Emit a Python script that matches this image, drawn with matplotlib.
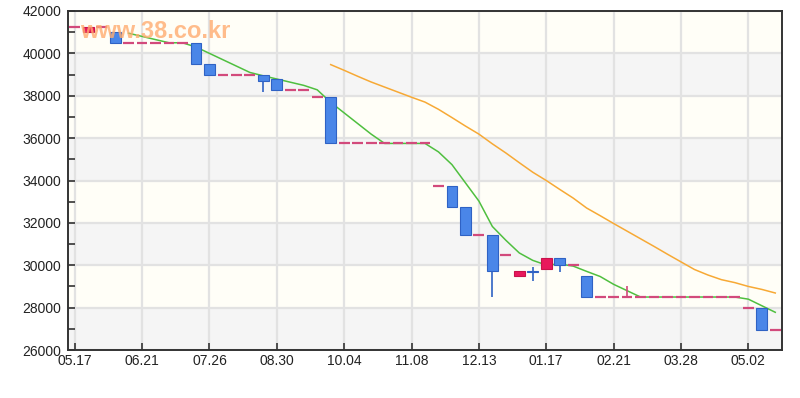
import matplotlib
matplotlib.use("Agg")
import matplotlib.pyplot as plt
import numpy as np

plt.rcParams['font.family'] = ['Liberation Sans', 'DejaVu Sans']

# weekly candles, index 0 = 05.17
opens = [41250, 41000, 41250, 41000, 40500, 40500, 40500, 40500, 40500, 40500,
         39500, 39000, 39000, 39000, 39000, 38800, 38250, 38250, 37950, 37950,
         35750, 35750, 35750, 35750, 35750, 35750, 35750, 33750, 33750, 32750,
         31450, 31450, 30500, 29500, 29750, 29800, 30350, 30000, 29500, 28500,
         28500, 28500, 28500, 28500, 28500, 28500, 28500, 28500, 28500, 28500,
         28000, 28000, 26950]
closes = [41250, 41250, 41250, 40500, 40500, 40500, 40500, 40500, 40500, 39500,
          39000, 39000, 39000, 39000, 38700, 38250, 38250, 38250, 37950, 35750,
          35750, 35750, 35750, 35750, 35750, 35750, 35750, 33750, 32750, 31450,
          31450, 29750, 30500, 29750, 29700, 30350, 30000, 30000, 28500, 28500,
          28500, 28500, 28500, 28500, 28500, 28500, 28500, 28500, 28500, 28500,
          28000, 26950, 26950]
highs = [41250, 41250, 41250, 41000, 40500, 40500, 40500, 40500, 40500, 40500,
         39500, 39000, 39000, 39000, 39000, 38800, 38250, 38250, 37950, 37950,
         35750, 35750, 35750, 35750, 35750, 35750, 35750, 33750, 33750, 32750,
         31450, 31450, 30500, 29750, 29900, 30350, 30350, 30000, 29500, 28500,
         28500, 29000, 28500, 28500, 28500, 28500, 28500, 28500, 28500, 28500,
         28000, 28000, 26950]
lows = [41250, 41000, 41250, 40500, 40500, 40500, 40500, 40500, 40500, 39500,
        39000, 39000, 39000, 39000, 38200, 38250, 38250, 38250, 37950, 35750,
        35750, 35750, 35750, 35750, 35750, 35750, 35750, 33750, 32750, 31450,
        31450, 28500, 30500, 29500, 29250, 29800, 29700, 30000, 28500, 28500,
        28500, 28500, 28500, 28500, 28500, 28500, 28500, 28500, 28500, 28500,
        28000, 26950, 26950]

# moving averages
ma5_start = 4
ma5 = [40950, 40800, 40650, 40500, 40500, 40300, 40000, 39700, 39400, 39100,
       38940, 38790, 38640, 38490, 38280, 37690, 37190, 36690, 36190, 35750,
       35750, 35750, 35750, 35350, 34750, 33890, 33030, 31830, 31180, 30580,
       30230, 30010, 30060, 29960, 29710, 29470, 29100, 28800, 28500, 28500,
       28500, 28500, 28500, 28500, 28500, 28500, 28400, 28090, 27780]
ma20_start = 19
ma20 = [39470, 39200, 38920, 38650, 38410, 38170, 37930, 37700, 37360, 36970,
        36570, 36190, 35730, 35300, 34840, 34390, 34000, 33580, 33170, 32700,
        32340, 31970, 31610, 31250, 30890, 30520, 30160, 29800, 29540, 29320,
        29180, 29000, 28860, 28690]

tick_pos = [0, 5, 10, 15, 20, 25, 30, 35, 40, 45, 50]
tick_labels = ['05.17', '06.21', '07.26', '08.30', '10.04', '11.08',
               '12.13', '01.17', '02.21', '03.28', '05.02']

blue_fill, blue_edge = '#4a86e8', '#2f62c4'
red_fill, red_edge = '#e8185c', '#c8124c'
doji_col = '#d24a7c'

fig = plt.figure(figsize=(8, 3.98), dpi=100)
ax = fig.add_axes([68/800, 1-350/398, (782-68)/800, (350-11)/398])

ymin, ymax = 26000, 42000
ax.set_ylim(ymin, ymax)
ax.set_xlim(-0.5, 52.5)

# alternating background bands
for k, lo in enumerate(range(ymin, ymax, 2000)):
    ax.axhspan(lo, lo+2000, color='#f5f5f5' if k % 2 == 0 else '#fffef7', zorder=0, lw=0)
ax.set_facecolor('white')

for y in range(ymin, ymax+1, 2000):
    ax.axhline(y, color='#e2e2e2', lw=1.6, zorder=1)
for t in tick_pos:
    ax.axvline(t, color='#e2e2e2', lw=1.6, zorder=1)

# moving averages
x5 = np.arange(ma5_start, ma5_start+len(ma5))
x20 = np.arange(ma20_start, ma20_start+len(ma20))
ax.plot(x20, ma20, color='#f7a935', lw=1.1, zorder=2)
ax.plot(x5, ma5, color='#4fbf3f', lw=1.1, zorder=2)

w = 0.8
for i in range(len(opens)):
    o, c, h, l = opens[i], closes[i], highs[i], lows[i]
    if o == c:
        col = doji_col
        if h != l:
            ax.vlines(i, l, h, color=col, lw=1.2, zorder=3)
        ax.hlines(o, i-w/2, i+w/2, color=col, lw=1.6, zorder=4)
        continue
    if c > o:
        fc, ec = red_fill, red_edge
    else:
        fc, ec = blue_fill, blue_edge
    ax.vlines(i, l, h, color=ec, lw=1.2, zorder=3)
    ax.bar(i, abs(c-o), bottom=min(o, c), width=w, color=fc, edgecolor=ec,
           linewidth=0.8, zorder=4)

ax.set_xticks(tick_pos)
ax.set_xticklabels(tick_labels)
ax.set_yticks(range(ymin, ymax+1, 2000))
ax.set_yticks(range(ymin+1000, ymax, 2000), minor=True)
ax.tick_params(axis='both', direction='in', length=5, width=1.2, color='#333333',
               labelsize=10, labelcolor='#222222')
ax.tick_params(axis='y', which='minor', direction='in', length=5, width=1.2, color='#333333')
ax.tick_params(axis='y', pad=5)
ax.tick_params(axis='x', pad=3)
for s in ax.spines.values():
    s.set_color('#333333')
    s.set_linewidth(1.4)

# watermark
fig.text(80/800, 1-31/398, 'www.38.co.kr', fontsize=17, fontweight='bold',
         color='#ffac70', alpha=0.8, va='center', ha='left', zorder=10)

fig.savefig('out.png', dpi=100)
